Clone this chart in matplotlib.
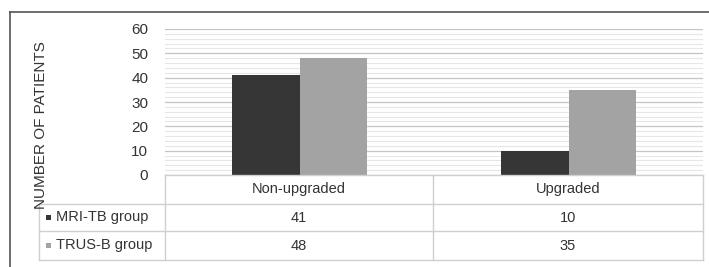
import numpy as np
import matplotlib.pyplot as plt
from matplotlib.lines import Line2D
from matplotlib.patches import Rectangle

plt.rcParams['font.family'] = ['Liberation Sans', 'DejaVu Sans']

# data
categories = ['Non-upgraded', 'Upgraded']
series_names = ['MRI-TB group', 'TRUS-B group']
mri_tb = [41, 10]
trus_b = [48, 35]
series_values = [mri_tb, trus_b]
colors = ['#363636', '#a3a3a3']
yticks = [0, 10, 20, 30, 40, 50, 60]

W, H = 709, 267
fig = plt.figure(figsize=(W / 100, H / 100), dpi=100)

def fx(px):
    return px / W

def fy(py):
    return 1 - py / H

# plot area in pixels
x0, x1 = 165, 703
y_top, y_zero = 29, 175
ax = fig.add_axes([fx(x0), fy(y_zero), fx(x1) - fx(x0), fy(y_top) - fy(y_zero)])

x = np.arange(len(categories))
bw = 0.25
for i, (vals, c) in enumerate(zip(series_values, colors)):
    ax.bar(x + (i - 0.5) * bw, vals, width=bw, color=c, zorder=3)

ax.set_xlim(-0.5, len(categories) - 0.5)
ax.set_ylim(0, 60)
ax.set_yticks(yticks)
ax.set_yticks(np.arange(0, 61, 2), minor=True)
ax.yaxis.grid(True, which='major', color='#c4c4c4', lw=0.9, zorder=0)
ax.yaxis.grid(True, which='minor', color='#e6e6e6', lw=0.8, zorder=0)
ax.set_xticks([])
ax.tick_params(axis='y', which='both', length=0, pad=12, labelsize=11, labelcolor='#333333')
for s in ax.spines.values():
    s.set_visible(False)

# data table below the plot
fs = 10.5
line_c = '#cfcfcf'
rows_y = [175, 204, 231, 260]
col_x = [39, 165, 433, 703]

def hline(py, xa, xb):
    fig.add_artist(Line2D([fx(xa), fx(xb)], [fy(py), fy(py)], color=line_c, lw=1))

def vline(px, ya, yb):
    fig.add_artist(Line2D([fx(px), fx(px)], [fy(ya), fy(yb)], color=line_c, lw=1))

hline(rows_y[0], col_x[1], col_x[3])
for py in rows_y[1:]:
    hline(py, col_x[0], col_x[3])
vline(col_x[0], rows_y[1], rows_y[3])
for px in col_x[1:]:
    vline(px, rows_y[0], rows_y[3])

for j, cat in enumerate(categories):
    cx = (col_x[j + 1] + col_x[j + 2]) / 2
    fig.text(fx(cx), fy((rows_y[0] + rows_y[1]) / 2), cat, ha='center', va='center',
             fontsize=fs, color='#333333')
    for i, vals in enumerate(series_values):
        cy = (rows_y[i + 1] + rows_y[i + 2]) / 2
        fig.text(fx(cx), fy(cy), str(vals[j]), ha='center', va='center',
                 fontsize=fs, color='#333333')

for i, (name, c) in enumerate(zip(series_names, colors)):
    cy = (rows_y[i + 1] + rows_y[i + 2]) / 2
    fig.add_artist(Rectangle((fx(46), fy(cy - 1 + 3)), fx(5), 5 / H, color=c, lw=0))
    fig.text(fx(56), fy(cy), name, ha='left', va='center', fontsize=fs, color='#333333')

fig.text(fx(41), fy(125), 'NUMBER OF PATIENTS', rotation=90, ha='center', va='center',
         fontsize=11, color='#333333')

# outer frame of the cropped figure
fig.add_artist(Line2D([fx(10), fx(10)], [fy(12), 0], color='#555555', lw=1.2))
fig.add_artist(Line2D([fx(10), 1], [fy(12), fy(12)], color='#555555', lw=1.2))

fig.savefig('out.png', dpi=100)
